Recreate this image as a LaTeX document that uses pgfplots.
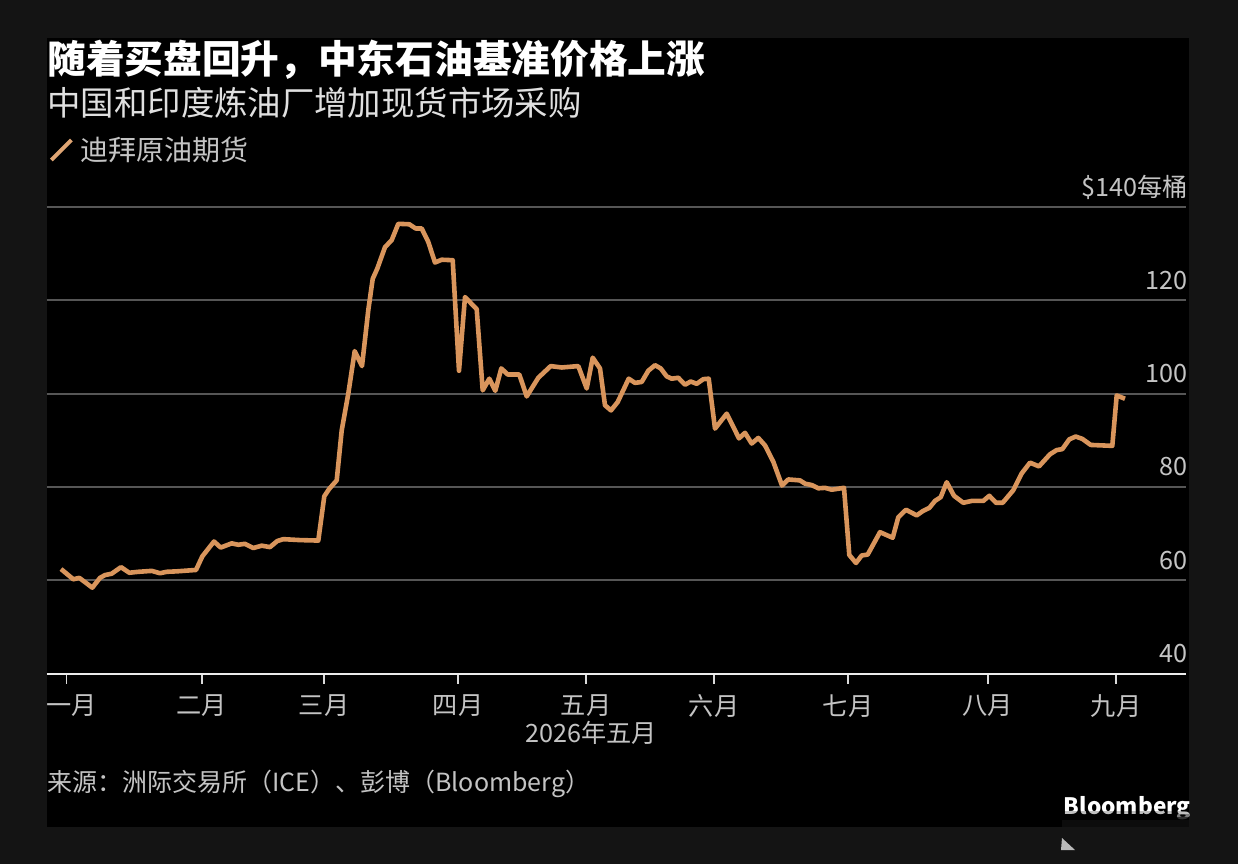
\documentclass[border=0pt]{standalone}
\usepackage{fontspec}
\usepackage{pgfplots}
\pgfplotsset{compat=1.18}
\setmainfont{Noto Sans CJK SC}
\definecolor{pagebg}{HTML}{141414}
\definecolor{oil}{HTML}{D9955C}
\definecolor{gridc}{HTML}{565656}
\definecolor{lab}{HTML}{C4C4C4}
\begin{document}
\begin{tikzpicture}[x=0.5pt,y=-0.5pt]
\useasboundingbox (0,0) rectangle (1238,864);
\fill[pagebg] (0,0) rectangle (1238,864);
\fill[black] (47,38) rectangle (1189,827);
\node[anchor=west,inner sep=0,text=white,font=\fontsize{19.35pt}{22pt}\selectfont\bfseries] at (47,60) {随着买盘回升，中东石油基准价格上涨};
\node[anchor=west,inner sep=0,text=white!88!black,font=\fontsize{16.7pt}{20pt}\selectfont] at (47,103) {中国和印度炼油厂增加现货市场采购};
\begin{axis}[
  at={(23.5pt,-336.75pt)},anchor=south west,
  scale only axis,width=569.5pt,height=233.25pt,
  xmin=47,xmax=1186,ymin=40,ymax=140,
  axis x line*=bottom,axis y line*=right,
  y axis line style={draw=none},
  x axis line style={draw=white!92!black,line width=1pt,-},
  xtick={66.7,202,324,458,586,714,848,987.7,1116},
  xticklabels={\hspace*{5pt}一月,二月,三月,四月,五月,六月,七月,八月,九月},
  xtick style={draw=white!85!black,line width=0.8pt},
  tick align=outside,
  major tick length=5pt,
  x tick label style={text=lab,font=\fontsize{12.6pt}{15pt}\selectfont,anchor=center,yshift=-11.1pt,inner sep=0},
  xlabel={2026年五月},
  xlabel style={at={(axis description cs:0.4776,0)},anchor=center,yshift=-29.75pt,text=lab,font=\fontsize{12.6pt}{15pt}\selectfont,inner sep=0},
  ytick={40,60,80,100,120,140},
  yticklabels={40,60,80,100,120,\$140每桶},
  ytick style={draw=none},
  y tick label style={text=lab,font=\fontsize{12.6pt}{15pt}\selectfont,anchor=east,yshift=10pt,xshift=-4pt,inner sep=0},
  tick label style={/pgf/number format/assume math mode=true},
  ymajorgrids,
  grid style={draw=gridc,line width=1pt},
  clip=false,
  legend style={at={(axis description cs:0,1)},anchor=west,yshift=28.5pt,xshift=1pt,draw=none,fill=none,inner sep=0,text=lab,font=\fontsize{14pt}{16pt}\selectfont,nodes={inner sep=0}},
  legend cell align=left,
  legend image code/.code={\draw[#1,color=oil!85!white,line width=2pt] (0pt,-5pt) -- (10pt,5pt);},
]
\addplot[color=oil,line width=2.3pt,line join=round] table {
61 62.4
73.3 60.2
79.3 60.5
92.3 58.4
100 60.5
105 61.1
111.7 61.4
121 62.8
129.3 61.6
138.3 61.8
151.7 62.0
160 61.5
166.7 61.8
176.7 61.9
196 62.2
202.3 65.1
214 68.3
220.7 67.0
231.7 67.9
238.3 67.6
245 67.8
253.3 66.9
261.7 67.4
270 67.1
277.3 68.4
283.3 68.8
300 68.6
318.3 68.5
324.3 78.0
329.3 79.6
336.7 81.4
341.7 92.1
348.3 100
354.7 109.1
362 105.9
368.3 117.9
372.7 124.6
377.3 126.8
385 131.4
391.7 132.9
398.3 136.4
409.3 136.3
415.7 135.4
421.7 135.4
428.3 132.5
435 128.1
441.7 128.7
452.7 128.6
459 104.9
465 120.7
476.7 118.1
482.7 100.7
489.3 103.2
495.3 100.6
501.3 105.4
507.7 104.1
519.3 104.1
526.7 99.4
538.3 103.4
550.7 105.9
561.7 105.6
578.3 105.9
586.7 101.1
592.7 107.7
600 105.4
605 97.5
611 96.4
617.7 98.2
628.7 103.2
635 102.3
641.7 102.5
648.3 104.9
655 106.1
660.7 105.4
666.7 103.7
671.7 103.2
678.3 103.4
685 101.9
690.7 102.6
696.7 102.1
703.3 103.1
708.7 103.2
715 92.5
726.7 95.7
739 90.4
745 91.6
751.7 89.3
758.3 90.5
765 88.9
773.3 85.4
782 80.3
788.3 81.6
800 81.4
805 80.7
811.7 80.4
818.3 79.7
825 79.8
831.7 79.4
844 79.8
849.3 65.4
856 63.7
861.7 65.3
867.7 65.5
880 70.3
892.7 69.1
898.3 73.5
906 75.1
916.7 73.9
922.7 74.8
929.3 75.5
935 77.0
940.7 77.8
946.7 81.0
954 78.1
963.3 76.6
971.7 77.0
983.3 77.0
989.3 78.1
996 76.6
1002.7 76.6
1013.3 79.3
1021.7 82.9
1030 85.2
1039 84.4
1050 87.0
1056.7 87.9
1062.3 88.1
1069.3 90.2
1075.7 90.8
1082.3 90.3
1090.7 89.0
1112.3 88.8
1116.7 99.6
1125 98.9
};
\legend{\hspace*{3.5pt}迪拜原油期货}
\end{axis}
\node[anchor=west,inner sep=0,text=lab,font=\fontsize{12.5pt}{15pt}\selectfont] at (47,784) {来源：洲际交易所（ICE）、彭博（Bloomberg）};
\begin{scope}
\clip (1040,790) rectangle (1189,820);
\node[anchor=north east,inner sep=0,text=white,font=\fontsize{11.3pt}{14pt}\selectfont\bfseries] at (1191,796) {Bloomberg};
\fill[black,opacity=.25] (1040,811) rectangle (1189,820);
\fill[black,opacity=.35] (1040,814) rectangle (1189,820);
\fill[black,opacity=.6] (1040,817) rectangle (1189,820);
\end{scope}
\fill[pagebg!60!black] (1062,820) rectangle (1189,827);
\fill[white!70!pagebg] (1061,850) -- (1062,838) -- (1075,850) -- cycle;
\end{tikzpicture}
\end{document}
